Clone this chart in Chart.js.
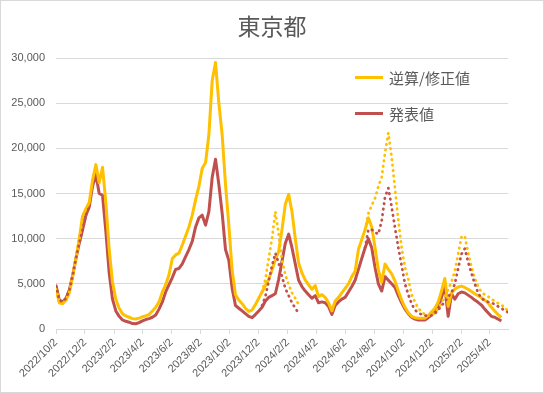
<!DOCTYPE html>
<html lang="ja">
<head>
<meta charset="utf-8">
<title>東京都</title>
<script src="https://cdn.jsdelivr.net/npm/chart.js@4.4.1/dist/chart.umd.min.js"></script>
<style>
    html, body { margin: 0; padding: 0; background: #fff; }
    #wrap { position: relative; width: 544px; height: 393px; }
    #chart { position: absolute; left: 0; top: 0; }
    #frame {
        position: absolute; left: 0; top: 0; width: 544px; height: 393px;
        border: 1px solid #d9d9d9; box-sizing: border-box; pointer-events: none;
    }
    .legend-item {
        position: absolute; left: 355px; height: 20px;
        display: flex; align-items: center;
        font: 15px 'Noto Sans CJK JP', sans-serif; color: #595959;
        white-space: nowrap;
    }
    .legend-swatch { width: 28px; height: 3px; margin-right: 6px; }
</style>
</head>
<body>
<div id="wrap">
    <canvas id="chart" width="544" height="393"></canvas>
    <div class="legend-item" style="top: 67px;"><span class="legend-swatch" style="background:#FFC000"></span>逆算/修正値</div>
    <div class="legend-item" style="top: 103px;"><span class="legend-swatch" style="background:#C0504D"></span>発表値</div>
    <div id="frame"></div>
</div>
<script>
// ============================================
// Data (weekly, starting 2022/10/2)
// ============================================

const startDate = '2022/10/2';
const weekStep = 7;

const tickLabels = [
    '2022/10/2', '2022/12/2', '2023/2/2', '2023/4/2', '2023/6/2', '2023/8/2',
    '2023/10/2', '2023/12/2', '2024/2/2', '2024/4/2', '2024/6/2', '2024/8/2',
    '2024/10/2', '2024/12/2', '2025/2/2', '2025/4/2'
];

// 逆算/修正値 (solid yellow)
const revisedValues = [
    4400, 2900, 2800, 3200, 4000, 5800, 7800, 10000, 12500, 13300,
    14000, 16500, 18200, 16200, 17900, 14000, 8800, 5200, 3300, 2300,
    1700, 1450, 1300, 1150, 1100, 1200, 1350, 1450, 1600, 2000,
    2400, 3000, 4100, 4900, 6000, 7800, 8200, 8400, 9300, 10300,
    11300, 12600, 14300, 15800, 17800, 18400, 21500, 27500, 29500, 25000,
    21500, 16000, 11500, 6500, 3800, 3200, 2800, 2300, 1950, 2100,
    2700, 3400, 4100, 4800, 5500, 6500, 7700, 8600, 11000, 13800,
    14900, 13000, 10000, 7300, 6200, 5400, 4900, 4400, 4800, 3600,
    3800, 3500, 2900, 2000, 3100, 3500, 4000, 4500, 5000, 5800,
    6400, 8800, 9900, 11000, 12300, 11300, 9000, 6500, 5200, 7200,
    6600, 6100, 5300, 4200, 3200, 2400, 1800, 1400, 1250, 1200,
    1180, 1200, 1500, 1900, 2300, 3000, 4200, 5600, 2500, 4000,
    4400, 4650, 4750, 4600, 4400, 4150, 3900, 3700, 3450, 3200,
    2900, 2400, 2000, 1600, 1300
];

// 発表値 (solid red)
const reportedValues = [
    4800, 3200, 3000, 3400, 4300, 5900, 7800, 9500, 11000, 12600,
    13500, 15800, 17100, 15000, 14800, 10800, 6200, 3300, 2000, 1400,
    1000, 850, 750, 600, 580, 700, 900, 1050, 1150, 1300,
    1550, 2200, 3000, 4100, 4900, 5700, 6600, 6700, 7200, 8000,
    8800, 9700, 11300, 12300, 12600, 11500, 13000, 16800, 18800, 16000,
    12800, 8800, 7600, 4500, 2600, 2300, 2000, 1700, 1400, 1250,
    1600, 2000, 2400, 3100, 3500, 3700, 3900, 5500, 7500, 9500,
    10500, 9000, 7200, 5400, 4700, 4200, 3800, 3400, 3700, 2900,
    3000, 2900, 2500, 1600, 2600, 3000, 3300, 3500, 4100, 4700,
    5400, 6600, 7800, 9000, 10000, 9000, 6800, 5000, 4200, 5800,
    5400, 5000, 4600, 3700, 2900, 2200, 1700, 1300, 1100, 1000,
    1000, 1000, 1250, 1550, 1900, 2300, 3500, 4700, 1400, 3900,
    3300, 3900, 4100, 4000, 3750, 3500, 3200, 2950, 2650, 2200,
    1800, 1400, 1300, 1100, 880
];

// dotted yellow (null = no value)
const revisedDotted = [
    4400, 2900, 2800, 3200, 4000, 5800, 7800, 10000, 12500, 13300,
    14000, null, null, null, null, null, null, null, null, null,
    null, null, null, null, null, null, null, null, null, null,
    null, null, null, null, null, null, null, null, null, null,
    null, null, null, null, null, null, null, null, null, null,
    null, null, null, null, null, null, null, null, null, null,
    null, null, 4100, 5500, 7800, 10000, 13000, 10500, 7600, 6000,
    4900, 4000, 3400, 2700, null, null, null, null, null, null,
    null, null, null, null, null, null, null, null, null, null,
    null, null, null, 11000, 12800, 13700, 14500, 15800, 16800, 19500,
    21700, 19000, 15500, 12000, 9000, 6800, 5500, 3800, 3000, 2300,
    1900, 1600, 1500, 1500, 1800, 2300, 2900, 3600, 4400, 5200,
    6400, 8300, 10200, 10300, 8400, 6900, 5600, 4700, 4100, 3800,
    3600, 3300, 3100, 2850, 2650, 2400, 2000
];

// dotted red (null = no value)
const reportedDotted = [
    4800, 3200, 3000, 3400, 4300, 5900, 7800, 9500, 11000, 12600,
    13500, null, null, null, null, null, null, null, null, null,
    null, null, null, null, null, null, null, null, null, null,
    null, null, null, null, null, null, null, null, null, null,
    null, null, null, null, null, null, null, null, null, null,
    null, null, null, null, null, null, null, null, null, null,
    null, null, 2600, 3600, 5300, 7000, 8400, 7300, 5800, 4500,
    3700, 2900, 2300, 1750, null, null, null, null, null, null,
    null, null, null, null, null, null, null, null, null, null,
    null, null, null, 9000, 11000, 11000, 10700, 10500, 12000, 14600,
    15600, 13500, 11200, 9000, 7000, 5000, 3800, 2800, 2100, 1800,
    1600, 1500, 1450, 1500, 1700, 2100, 2600, 3000, 3600, 4000,
    5000, 6700, 8300, 8900, 7400, 6200, 5000, 4000, 3400, 3150,
    3000, 2900, 2750, 2500, 2300, 2050, 1850
];

// ============================================
// Helpers
// ============================================

const YELLOW = '#FFC000';
const RED = '#C0504D';
const TEXT = '#595959';
const GRID = '#d9d9d9';

function dayOffset(label) {
    const [y, m, d] = label.split('/').map(Number);
    const [y0, m0, d0] = startDate.split('/').map(Number);
    return Math.round((Date.UTC(y, m - 1, d) - Date.UTC(y0, m0 - 1, d0)) / 86400000);
}

function toPoints(values) {
    return values.map((v, i) => ({ x: i * weekStep, y: v }));
}

const tickDays = tickLabels.map(dayOffset);
const lastDay = (revisedDotted.length - 1) * weekStep;

function lineSet(label, values, color, dotted) {
    return {
        label: label,
        data: toPoints(values),
        borderColor: color,
        backgroundColor: color,
        borderWidth: dotted ? 2.75 : 3,
        borderDash: dotted ? [0.5, 5] : [],
        borderCapStyle: dotted ? 'round' : 'butt',
        borderJoinStyle: 'round',
        pointRadius: 0,
        tension: 0,
        spanGaps: false
    };
}

// ============================================
// Chart
// ============================================

const ctx = document.getElementById('chart').getContext('2d');

new Chart(ctx, {
    type: 'line',
    data: {
        // first dataset is drawn on top
        datasets: [
            lineSet('発表値 (点線)', reportedDotted, RED, true),
            lineSet('逆算/修正値 (点線)', revisedDotted, YELLOW, true),
            lineSet('逆算/修正値', revisedValues, YELLOW, false),
            lineSet('発表値', reportedValues, RED, false)
        ]
    },
    options: {
        responsive: false,
        animation: false,
        devicePixelRatio: 1,
        layout: { padding: 0 },
        plugins: {
            legend: { display: false },
            tooltip: { enabled: false },
            title: {
                display: true,
                text: '東京都',
                color: TEXT,
                font: { family: "'Noto Sans CJK JP', sans-serif", size: 23, weight: 'normal' },
                padding: { top: 12, bottom: 18.4 }
            }
        },
        scales: {
            x: {
                type: 'linear',
                min: 0,
                max: lastDay,
                afterBuildTicks: scale => {
                    scale.ticks = tickDays.map(v => ({ value: v }));
                },
                afterFit: scale => { scale.height = 64; },
                grid: {
                    drawOnChartArea: false,
                    drawTicks: true,
                    tickLength: 5,
                    color: GRID
                },
                border: { display: true, color: GRID, width: 1 },
                ticks: {
                    autoSkip: false,
                    maxRotation: 45,
                    minRotation: 45,
                    padding: 2,
                    color: TEXT,
                    font: { family: "'Liberation Sans', sans-serif", size: 11 },
                    callback: (value, index) => tickLabels[index]
                }
            },
            y: {
                min: 0,
                max: 30000,
                afterFit: scale => { scale.width = 56; },
                grid: { color: GRID, drawTicks: false },
                border: { display: false },
                ticks: {
                    stepSize: 5000,
                    padding: 11,
                    color: TEXT,
                    font: { family: "'Liberation Sans', sans-serif", size: 11 },
                    callback: v => v.toLocaleString('en-US')
                }
            },
            // empty right margin so the title stays centred on the canvas
            spacer: {
                position: 'right',
                display: true,
                min: 0,
                max: 1,
                afterFit: scale => { scale.width = 36; },
                grid: { display: false },
                border: { display: false },
                ticks: { display: false }
            }
        }
    }
});
</script>
</body>
</html>
